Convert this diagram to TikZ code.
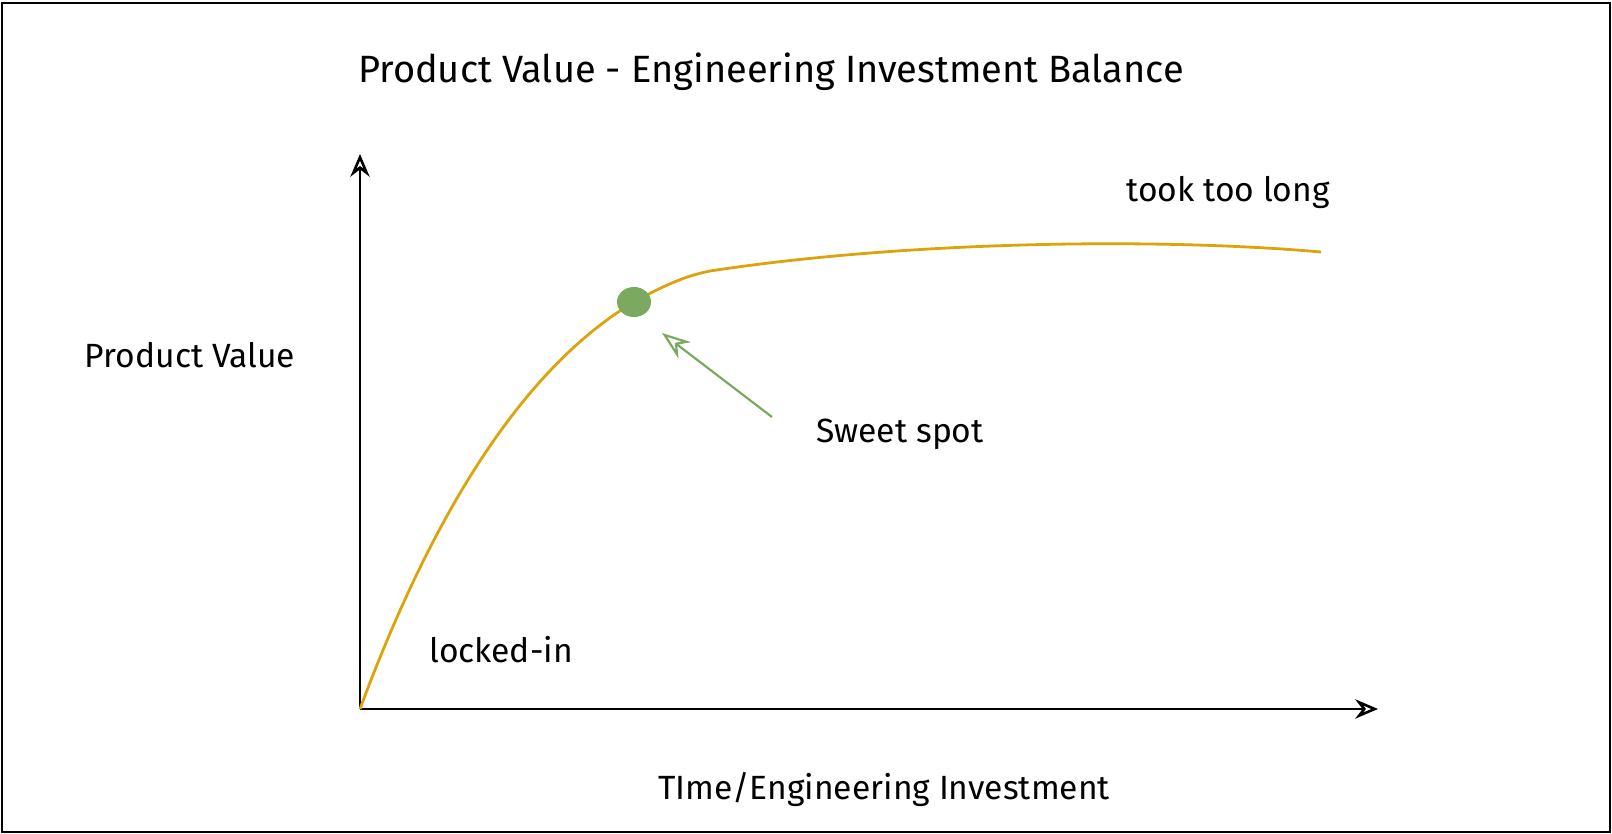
\documentclass[tikz,border=0pt]{standalone}
\usepackage{fontspec}
\setmainfont{Fira Sans}
\usepackage{tikz}
\usetikzlibrary{arrows.meta,positioning}
\usepackage{xcolor}
\definecolor{curveyellow}{HTML}{DCA30A}
\definecolor{spotgreen}{HTML}{7AA95F}

\begin{document}
\begin{tikzpicture}[
  x=0.5pt, y=-0.5pt,
  label/.style={font=\fontsize{16.8}{20}\selectfont, inner sep=0pt},
  axis/.style={-{Stealth[open, length=4mm, width=3.4mm]}, line width=1.3pt, black},
  valuecurve/.style={line width=1.4pt, curveyellow},
  pointer/.style={-{Stealth[open, length=5mm, width=3.6mm]}, line width=1.1pt, spotgreen}
]
\useasboundingbox (0,0) rectangle (1612,834);
\draw[line width=1pt] (2,3) rectangle (1610,832);
\node[label, font=\fontsize{19}{23}\selectfont] (title) at (771,72) {Product Value - Engineering Investment Balance};
\coordinate (origin) at (360,709);
\coordinate (ytop) at (360,154);
\coordinate (xend) at (1378,709);
\draw[axis] (origin) -- (ytop);
\draw[axis] (origin) -- (xend);
\node[label] (ylabel) at (190,355) {Product Value};
\node[label] (xlabel) at (884,790) {TIme/Engineering Investment};
% value curve
\coordinate (spot) at (634,302);
\coordinate (knee) at (710,271);
\coordinate (tail) at (1321,252);
\draw[valuecurve] (origin) .. controls (430,520) and (520,370) .. (spot)
  .. controls (670,282) and (690,275) .. (knee)
  .. controls (900,242) and (1150,237) .. (tail);
\fill[spotgreen] (spot) ellipse (17 and 15);
\node[label] (locked) at (501,650) {locked-in};
\node[label] (toolong) at (1228,192) {took too long};
\node[label] (sweet) at (900,434) {Sweet spot};
\coordinate (arrowstart) at (772,417);
\coordinate (arrowend) at (662,333);
\draw[pointer] (arrowstart) -- (arrowend);
\end{tikzpicture}
\end{document}
